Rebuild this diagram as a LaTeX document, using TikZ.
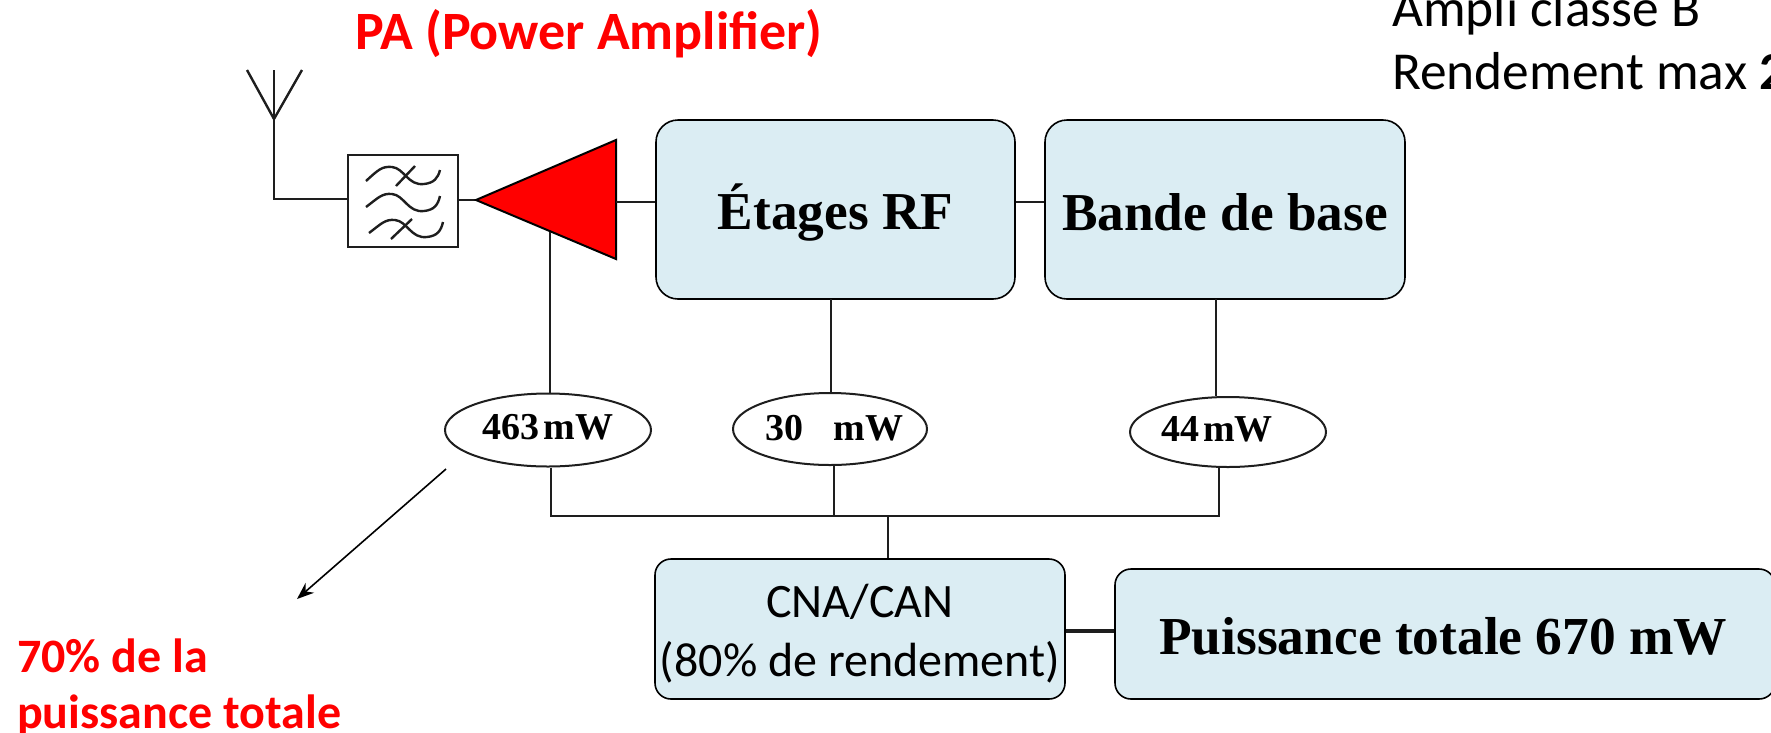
\documentclass[tikz,border=0pt]{standalone}
\usepackage{fontspec}
\setmainfont{Liberation Serif}
\newfontfamily\calfont{Carlito}
\usetikzlibrary{shapes.geometric,arrows.meta}
\definecolor{boxblue}{RGB}{219,237,243}
\definecolor{linegray}{RGB}{30,30,30}
\tikzset{
  x=1pt,y=-1pt,
  bluebox/.style={draw=black,line width=1.6pt,fill=boxblue,rounded corners=22pt,inner sep=0pt,align=center},
  bigserif/.style={font=\fontsize{53.3}{60}\selectfont\bfseries,inner sep=0pt},
  wire/.style={draw=linegray,line width=2.4pt},
  oval/.style={ellipse,draw=linegray,line width=2pt,inner sep=0pt},
  ovaltext/.style={font=\fontsize{38}{42}\selectfont\bfseries,inner sep=0pt},
  redtext/.style={text=red,font=\calfont\fontsize{48}{55}\selectfont\bfseries,inner sep=0pt,anchor=base west},
  caltext/.style={font=\calfont\fontsize{53.4}{63}\selectfont,inner sep=0pt,anchor=base west},
  squiggle/.style={draw=linegray,line width=2.4pt}
}
\begin{document}
\begin{tikzpicture}
\useasboundingbox (0,0) rectangle (1771,732);
\clip (0,0) rectangle (1771,732);
% boxes
\node[bluebox,minimum width=359pt,minimum height=179pt] (rf) at (835.5,209.5) {};
\node[bigserif] (rftext) at (835.5,212.5) {Étages RF};
\node[bluebox,minimum width=360pt,minimum height=179pt] (bb) at (1225,209.5) {};
\node[bigserif] (bbtext) at (1225,212) {Bande de base};
\node[bluebox,minimum width=410pt,minimum height=140pt,rounded corners=16pt] (cna) at (860,629) {};
\node[font=\calfont\fontsize{48}{59}\selectfont,align=center,inner sep=0pt] (cnatext) at (860,634) {CNA/CAN\\(80\% de rendement)};
\node[bluebox,minimum width=660pt,minimum height=130pt,rounded corners=16pt] (tot) at (1445,634) {};
\node[font=\fontsize{53.4}{56}\selectfont\bfseries,inner sep=0pt,anchor=base west] (tottext) at (1159,654) {Puissance totale 670 mW};
% filter
\node[draw=linegray,line width=2.4pt,minimum width=110pt,minimum height=92pt,inner sep=0pt] (filt) at (403,201) {};
\draw[squiggle] (366,181) .. controls (378,170) and (382,166) .. (392,167) .. controls (404,168) and (408,186) .. (424,184) .. controls (434,183) and (438,178) .. (440,170);
\draw[squiggle] (396,186) -- (415,166);
\draw[squiggle] (366,207) .. controls (378,198) and (382,193) .. (392,194) .. controls (404,195) and (408,213) .. (424,211) .. controls (434,210) and (438,205) .. (440,196);
\draw[squiggle] (369,233) .. controls (381,224) and (385,219) .. (395,220) .. controls (407,221) and (411,239) .. (427,237) .. controls (437,236) and (441,231) .. (443,222);
\draw[squiggle] (391,239) -- (412,219);
% antenna
\coordinate (antbase) at (274,119);
\coordinate (antl) at (247,70);
\coordinate (antm) at (274,70);
\coordinate (antr) at (302,70);
\coordinate (antc) at (274,199);
\draw[wire] (antl) -- (antbase) -- (antr);
\draw[wire] (antm) -- (antbase) -- (antc) -- (filt.west |- antc);
% amplifier
\coordinate (patip) at (476,200);
\coordinate (patop) at (616,140);
\coordinate (pabot) at (616,259);
\coordinate (pasup) at (550,232);
\coordinate (par) at (616,202);
\draw[wire] (filt.east |- patip) -- (patip);
\filldraw[draw=black,fill=red,line width=2pt,line join=miter] (patip) -- (patop) -- (pabot) -- cycle;
% ellipses
\node[oval,minimum width=206pt,minimum height=73pt] (e1) at (548,430) {};
\node[ovaltext] (e1text) at (548,427) {463\hspace{4pt}mW};
\node[oval,minimum width=194pt,minimum height=72pt] (e2) at (830,429) {};
\node[ovaltext] (e2text) at (834.5,428) {30\hspace{30pt}mW};
\node[oval,minimum width=196pt,minimum height=70pt] (e3) at (1228,432) {};
\node[ovaltext] (e3text) at (1217,429) {44\hspace{4pt}mW};
% wires
\coordinate (rfl) at (rf.west |- 0,202);
\draw[wire] (par) -- (rfl);
\draw[wire] (rf.east |- 0,202) -- (bb.west |- 0,202);
\draw[wire] (pasup) -- (pasup |- e1.north);
\coordinate (e2up) at (831,299);
\draw[wire] (e2up) -- (e2up |- e2.north);
\coordinate (e3up) at (1216,299);
\draw[wire] (e3up) -- (e3up |- e3.north);
\coordinate (b1) at (551,516);
\coordinate (b2) at (834,516);
\coordinate (b3) at (1219,516);
\coordinate (b4) at (888,516);
\draw[wire] (b1 |- e1.south) -- (b1) -- (b3) -- (b3 |- e3.south);
\draw[wire] (b2 |- e2.south) -- (b2);
\draw[wire] (b4) -- (b4 |- cna.north);
\draw[line width=4.5pt,draw=linegray] (cna.east |- 0,631) -- (tot.west |- 0,631);
% arrow
\coordinate (arrs) at (446,469);
\coordinate (arre) at (297,599);
\draw[line width=1.6pt,-{Stealth[length=17pt,width=13pt]}] (arrs) -- (arre);
% texts
\node[redtext,font=\calfont\fontsize{54}{55}\selectfont\bfseries] (patitle) at (355,49) {PA (Power Amplifier)};
\node[redtext] (pct1) at (17,672) {70\% de la};
\node[redtext] (pct2) at (17,728) {puissance totale};
\node[caltext] (amp) at (1392,26) {Ampli classe B};
\node[caltext] (rend) at (1392,89) {Rendement max \textbf{2}};
\end{tikzpicture}
\end{document}
